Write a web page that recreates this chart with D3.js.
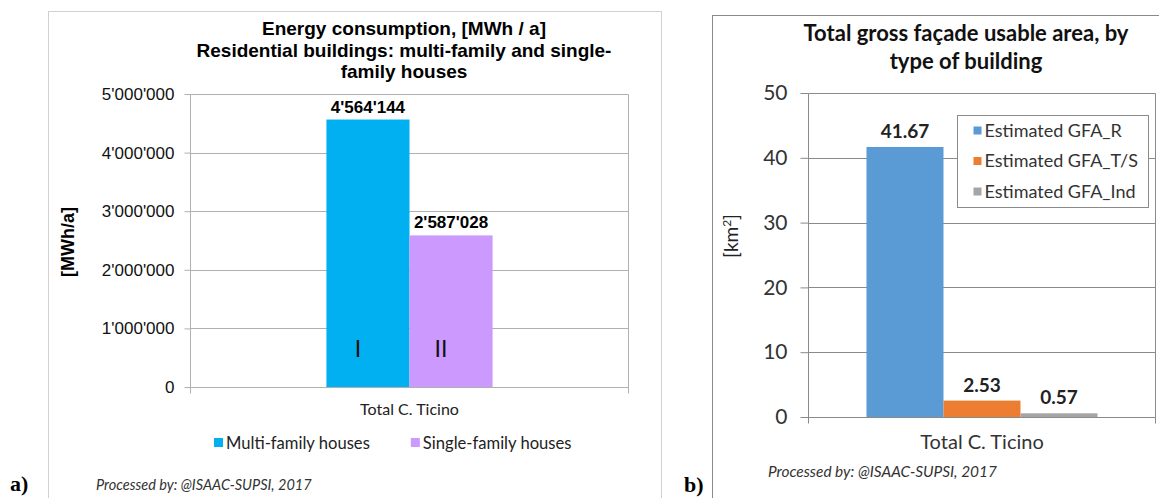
<!DOCTYPE html>
<html>
<head>
<meta charset="utf-8">
<script src="https://cdn.jsdelivr.net/npm/d3@7"></script>
<style>
  body { margin: 0; background: #fff; }
  svg { display: block; }
</style>
</head>
<body>
<div id="chart"></div>
<script>
// a) energy consumption
const energyCategories = ["Total C. Ticino"];
const energySeries = ["Multi-family houses", "Single-family houses"];
const energyValues = [4564144, 2587028];
const energyMarks = ["I", "II"];
const energyTicks = [0, 1000000, 2000000, 3000000, 4000000, 5000000];
const energyColors = ["#00b0f0", "#cc99ff"];

// b) gross facade usable area
const gfaCategories = ["Total C. Ticino"];
const gfaSeries = ["Estimated GFA_R", "Estimated GFA_T/S", "Estimated GFA_Ind"];
const gfaValues = [41.67, 2.53, 0.57];
const gfaTicks = [0, 10, 20, 30, 40, 50];
const gfaColors = ["#5b9bd5", "#ed7d31", "#a5a5a5"];

const width = 1159, height = 498;
const arial = "'Liberation Sans', Arial, sans-serif";
const calibri = "Lato, 'Open Sans', sans-serif";
const serif = "'Liberation Serif', 'Times New Roman', serif";

const svg = d3.select("#chart").append("svg")
    .attr("width", width)
    .attr("height", height);

// swiss style thousands separator
const swiss = d3.formatLocale({decimal: ".", thousands: "'", grouping: [3], currency: ["", ""]});
const fmtE = swiss.format(",d");

const crisp = v => Math.round(v) + 0.5;

// ================= a) =================
const a = {left: 190.5, right: 628.5, top: 94, bottom: 387};

svg.append("rect")
    .attr("x", 48.5).attr("y", 11.5)
    .attr("width", 613).attr("height", 520)
    .attr("fill", "#fff")
    .attr("stroke", "#d0d0d0");

const yE = d3.scaleLinear().domain([0, 5000000]).range([a.bottom, a.top]);
const xE = d3.scaleBand().domain(energyCategories).range([a.left, a.right]).paddingOuter(0.818);
const xE1 = d3.scaleBand().domain(energySeries).range([0, xE.bandwidth()]);

// gridlines
svg.append("g")
    .selectAll("line")
    .data(energyTicks)
    .join("line")
    .attr("x1", a.left).attr("x2", a.right)
    .attr("y1", d => crisp(yE(d))).attr("y2", d => crisp(yE(d)))
    .attr("stroke", "#b0b0b0");

// plot frame sides (with category ticks under the baseline)
svg.append("g")
    .selectAll("line")
    .data([a.left, a.right])
    .join("line")
    .attr("x1", d => d).attr("x2", d => d)
    .attr("y1", crisp(yE(5000000))).attr("y2", crisp(yE(0)) + 6)
    .attr("stroke", "#b0b0b0");

// y axis
const axE = svg.append("g")
    .attr("transform", `translate(${a.left},0)`)
    .call(d3.axisLeft(yE).tickValues(energyTicks).tickFormat(fmtE).tickSize(6).tickPadding(10));
axE.select(".domain").remove();
axE.selectAll(".tick line").attr("stroke", "#b0b0b0");
axE.selectAll(".tick text")
    .attr("font-family", arial)
    .attr("font-size", 17)
    .attr("fill", "#111");

// bars
const gE = svg.append("g").attr("transform", `translate(${xE(energyCategories[0])},0)`);
gE.selectAll("rect")
    .data(energyValues)
    .join("rect")
    .attr("x", (d, i) => xE1(energySeries[i]))
    .attr("y", d => yE(d))
    .attr("width", xE1.bandwidth())
    .attr("height", d => yE(0) - yE(d))
    .attr("fill", (d, i) => energyColors[i]);

// value labels
gE.selectAll("text.val")
    .data(energyValues)
    .join("text")
    .attr("class", "val")
    .attr("x", (d, i) => xE1(energySeries[i]) + xE1.bandwidth() / 2)
    .attr("y", d => yE(d) - 7)
    .attr("text-anchor", "middle")
    .attr("font-family", arial)
    .attr("font-weight", "bold")
    .attr("font-size", 17)
    .text(d => fmtE(d));

// roman numerals inside bars
gE.selectAll("text.mark")
    .data(energyMarks)
    .join("text")
    .attr("class", "mark")
    .attr("x", (d, i) => xE1(energySeries[i]) + xE1.bandwidth() / 2 - 10)
    .attr("y", a.bottom - 30)
    .attr("text-anchor", "middle")
    .attr("font-family", calibri)
    .attr("font-size", 23)
    .attr("fill", "#111")
    .text(d => d);

// category label
svg.append("text")
    .attr("x", xE(energyCategories[0]) + xE.bandwidth() / 2)
    .attr("y", a.bottom + 28)
    .attr("text-anchor", "middle")
    .attr("font-family", calibri)
    .attr("font-size", 16)
    .attr("fill", "#222")
    .text(energyCategories[0]);

// title
const titleE = ["Energy consumption, [MWh / a]",
                "Residential buildings: multi-family and single-",
                "family houses"];
svg.append("g")
    .selectAll("text")
    .data(titleE)
    .join("text")
    .attr("x", 404)
    .attr("y", (d, i) => 35 + i * 21.5)
    .attr("text-anchor", "middle")
    .attr("font-family", arial)
    .attr("font-weight", "bold")
    .attr("font-size", 19)
    .text(d => d);

// y title
svg.append("text")
    .attr("transform", "translate(74,242) rotate(-90)")
    .attr("text-anchor", "middle")
    .attr("font-family", arial)
    .attr("font-weight", "bold")
    .attr("font-size", 18)
    .text("[MWh/a]");

// legend
const legE = svg.append("g").attr("transform", "translate(214,443)");
let lx = 0;
energySeries.forEach((s, i) => {
    const item = legE.append("g").attr("transform", `translate(${lx},0)`);
    item.append("rect").attr("x", 0).attr("y", -5).attr("width", 9).attr("height", 9).attr("fill", energyColors[i]);
    const t = item.append("text")
        .attr("x", 12).attr("y", 6)
        .attr("font-family", calibri)
        .attr("font-size", 16.6)
        .attr("fill", "#222")
        .text(s);
    lx += 12 + t.node().getComputedTextLength() + 41;
});

// source note
svg.append("text")
    .attr("x", 96).attr("y", 490)
    .attr("font-family", calibri)
    .attr("font-style", "italic")
    .attr("font-size", 14.5)
    .attr("fill", "#333")
    .text("Processed by: @ISAAC-SUPSI, 2017");

svg.append("text")
    .attr("x", 10).attr("y", 491)
    .attr("font-family", serif)
    .attr("font-weight", "bold")
    .attr("font-size", 22)
    .text("a)");

// ================= b) =================
const b = {left: 808.5, right: 1155.5, top: 93, bottom: 417};

svg.append("rect")
    .attr("x", 712.5).attr("y", 15.5)
    .attr("width", 470).attr("height", 520)
    .attr("fill", "#fff")
    .attr("stroke", "#8a8a8a");

const yG = d3.scaleLinear().domain([0, 50]).range([b.bottom, b.top]);
const xG = d3.scaleBand().domain(gfaCategories).range([b.left, b.right]).paddingOuter(0.251);
const xG1 = d3.scaleBand().domain(gfaSeries).range([0, xG.bandwidth()]);

svg.append("g")
    .selectAll("line")
    .data(gfaTicks)
    .join("line")
    .attr("x1", b.left).attr("x2", b.right)
    .attr("y1", d => crisp(yG(d))).attr("y2", d => crisp(yG(d)))
    .attr("stroke", "#8a8a8a");

svg.append("g")
    .selectAll("line")
    .data([b.left, b.right])
    .join("line")
    .attr("x1", d => d).attr("x2", d => d)
    .attr("y1", crisp(yG(50))).attr("y2", crisp(yG(0)) + 6)
    .attr("stroke", "#8a8a8a");

const axG = svg.append("g")
    .attr("transform", `translate(${b.left},0)`)
    .call(d3.axisLeft(yG).tickValues(gfaTicks).tickSize(8).tickPadding(13));
axG.select(".domain").remove();
axG.selectAll(".tick line").attr("stroke", "#8a8a8a");
axG.selectAll(".tick text")
    .attr("font-family", calibri)
    .attr("font-size", 21)
    .attr("fill", "#333");

const gG = svg.append("g").attr("transform", `translate(${xG(gfaCategories[0])},0)`);
gG.selectAll("rect")
    .data(gfaValues)
    .join("rect")
    .attr("x", (d, i) => xG1(gfaSeries[i]))
    .attr("y", d => yG(d))
    .attr("width", xG1.bandwidth())
    .attr("height", d => yG(0) - yG(d))
    .attr("fill", (d, i) => gfaColors[i]);

gG.selectAll("text.val")
    .data(gfaValues)
    .join("text")
    .attr("class", "val")
    .attr("x", (d, i) => xG1(gfaSeries[i]) + xG1.bandwidth() / 2)
    .attr("y", d => yG(d) - 9)
    .attr("text-anchor", "middle")
    .attr("font-family", calibri)
    .attr("font-weight", "bold")
    .attr("font-size", 19)
    .attr("fill", "#222")
    .text(d => d3.format(".2f")(d));

svg.append("text")
    .attr("x", xG(gfaCategories[0]) + xG.bandwidth() / 2)
    .attr("y", b.bottom + 32)
    .attr("text-anchor", "middle")
    .attr("font-family", calibri)
    .attr("font-size", 20)
    .attr("fill", "#333")
    .text(gfaCategories[0]);

const titleG = ["Total gross façade usable area, by", "type of building"];
svg.append("g")
    .selectAll("text")
    .data(titleG)
    .join("text")
    .attr("x", 966)
    .attr("y", (d, i) => 41 + i * 28)
    .attr("text-anchor", "middle")
    .attr("font-family", calibri)
    .attr("font-weight", "bold")
    .attr("font-size", 22)
    .attr("fill", "#111")
    .text(d => d);

const yTitleG = svg.append("text")
    .attr("transform", "translate(738,236) rotate(-90)")
    .attr("text-anchor", "middle")
    .attr("font-family", calibri)
    .attr("font-size", 19)
    .attr("fill", "#222");
yTitleG.append("tspan").text("[km");
yTitleG.append("tspan").attr("dy", -7).attr("font-size", 12).text("2");
yTitleG.append("tspan").attr("dy", 7).text("]");

// legend box
const legG = svg.append("g").attr("transform", "translate(957.5,115.5)");
legG.append("rect")
    .attr("width", 191).attr("height", 92)
    .attr("fill", "#fff")
    .attr("stroke", "#8a8a8a");
gfaSeries.forEach((s, i) => {
    const yy = 15 + i * 30.5;
    legG.append("rect").attr("x", 16).attr("y", yy - 4).attr("width", 8).attr("height", 8).attr("fill", gfaColors[i]);
    legG.append("text")
        .attr("x", 27).attr("y", yy + 6)
        .attr("font-family", calibri)
        .attr("font-size", 18)
        .attr("fill", "#333")
        .text(s);
});

svg.append("text")
    .attr("x", 768).attr("y", 477)
    .attr("font-family", calibri)
    .attr("font-style", "italic")
    .attr("font-size", 15.4)
    .attr("fill", "#333")
    .text("Processed by: @ISAAC-SUPSI, 2017");

svg.append("text")
    .attr("x", 684).attr("y", 492)
    .attr("font-family", serif)
    .attr("font-weight", "bold")
    .attr("font-size", 22)
    .text("b)");
</script>
</body>
</html>
